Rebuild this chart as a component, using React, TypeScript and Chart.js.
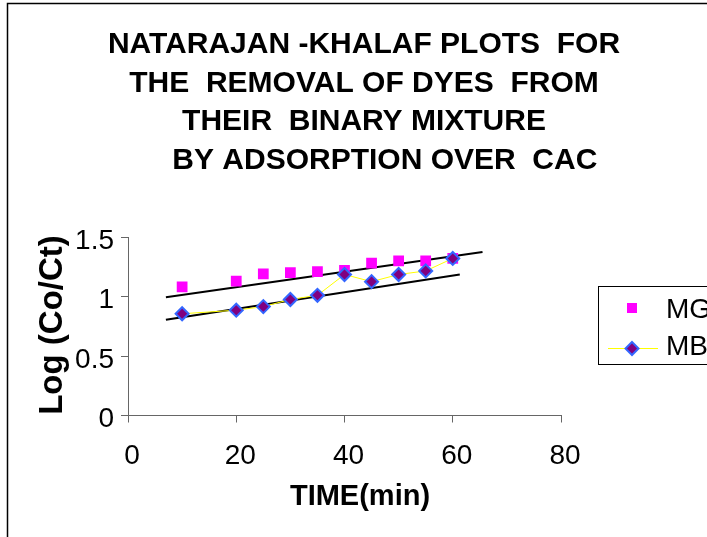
import React, { useEffect, useRef } from 'react';
import { Chart, registerables } from 'chart.js';

Chart.register(...registerables);

// ---- data ----
const titleLines = [
  'NATARAJAN -KHALAF PLOTS  FOR',
  'THE  REMOVAL OF DYES  FROM',
  'THEIR  BINARY MIXTURE',
  '     BY ADSORPTION OVER  CAC',
];
const xAxisTitle = 'TIME(min)';
const yAxisTitle = 'Log (Co/Ct)';
const seriesNames = ['MG', 'MB'];
const timeMin = [10, 20, 25, 30, 35, 40, 45, 50, 55, 60];
const mgValues = [1.08, 1.13, 1.19, 1.2, 1.21, 1.22, 1.28, 1.3, 1.3, 1.32];
const mbValues = [0.855, 0.885, 0.915, 0.975, 1.01, 1.185, 1.125, 1.185, 1.215, 1.32];
// trend line end points
const mgTrendX = [7, 65.5];
const mgTrendY = [0.994, 1.373];
const mbTrendX = [7, 61.3];
const mbTrendY = [0.805, 1.185];
const xMin = 0, xMax = 80, xStep = 20;
const yMin = 0, yMax = 1.5, yStep = 0.5;

const FONT = '"Liberation Sans", Arial, Helvetica, sans-serif';

const toPts = (xs: number[], ys: number[]) => xs.map((x, i) => ({ x, y: ys[i] }));

const decorPlugin = {
  id: 'decor',
  afterDraw(chart: any) {
    const ctx = chart.ctx as CanvasRenderingContext2D;
    ctx.save();
    // outer frame
    ctx.strokeStyle = '#000';
    ctx.lineWidth = 1.5;
    ctx.strokeRect(7.5, 3.5, 900, 900);

    // title
    ctx.fillStyle = '#000';
    ctx.font = `bold 30px ${FONT}`;
    ctx.textAlign = 'center';
    ctx.textBaseline = 'alphabetic';
    titleLines.forEach((t, i) => ctx.fillText(t, 364, 53 + i * 38.5));

    // x axis title
    ctx.font = `bold 29px ${FONT}`;
    ctx.fillText(xAxisTitle, 360, 505);

    // y axis title
    ctx.save();
    ctx.translate(62, 325);
    ctx.rotate(-Math.PI / 2);
    ctx.font = `bold 33px ${FONT}`;
    ctx.fillText(yAxisTitle, 0, 0);
    ctx.restore();

    // legend
    const ds = chart.data.datasets;
    ctx.strokeStyle = '#000';
    ctx.lineWidth = 1;
    ctx.strokeRect(598.5, 286.5, 200, 78);
    // MG
    const mg = ds[0];
    ctx.fillStyle = mg.backgroundColor;
    ctx.fillRect(627, 303, 10, 10);
    // MB
    const mb = ds[1];
    ctx.strokeStyle = mb.borderColor;
    ctx.lineWidth = mb.borderWidth;
    ctx.beginPath();
    ctx.moveTo(608, 348.5);
    ctx.lineTo(658, 348.5);
    ctx.stroke();
    const r = mb.pointRadius;
    ctx.beginPath();
    ctx.moveTo(632, 348.5 - r);
    ctx.lineTo(632 + r, 348.5);
    ctx.lineTo(632, 348.5 + r);
    ctx.lineTo(632 - r, 348.5);
    ctx.closePath();
    ctx.fillStyle = mb.pointBackgroundColor;
    ctx.fill();
    ctx.strokeStyle = mb.pointBorderColor;
    ctx.lineWidth = mb.pointBorderWidth;
    ctx.stroke();

    ctx.fillStyle = '#000';
    ctx.font = `28px ${FONT}`;
    ctx.textAlign = 'left';
    ctx.textBaseline = 'middle';
    ctx.fillText(seriesNames[0], 666, 310);
    ctx.fillText(seriesNames[1], 666, 347);
    ctx.restore();
  },
};

export default function App() {
  const canvasRef = useRef<HTMLCanvasElement | null>(null);

  useEffect(() => {
    document.body.style.margin = '0';
    const canvas = canvasRef.current;
    if (!canvas) return;
    const chart = new Chart(canvas, {
      type: 'scatter',
      data: {
        datasets: [
          {
            label: seriesNames[0],
            data: toPts(timeMin, mgValues),
            pointStyle: 'rect',
            pointRadius: 7.6,
            backgroundColor: '#FF00FF',
            borderColor: '#FF00FF',
            borderWidth: 0,
            pointBorderWidth: 0,
            showLine: false,
            order: 1,
          },
          {
            label: seriesNames[1],
            data: toPts(timeMin, mbValues),
            pointStyle: 'rectRot',
            pointRadius: 6.5,
            pointBackgroundColor: '#800080',
            pointBorderColor: '#3366FF',
            pointBorderWidth: 2,
            backgroundColor: '#800080',
            borderColor: '#FFFF00',
            borderWidth: 1,
            showLine: true,
            order: 0,
          },
          {
            label: 'MG trend',
            data: toPts(mgTrendX, mgTrendY),
            borderColor: '#000',
            borderWidth: 2,
            pointRadius: 0,
            showLine: true,
            order: 2,
          },
          {
            label: 'MB trend',
            data: toPts(mbTrendX, mbTrendY),
            borderColor: '#000',
            borderWidth: 2,
            pointRadius: 0,
            showLine: true,
            order: 2,
          },
        ],
      },
      options: {
        animation: false,
        responsive: false,
        devicePixelRatio: 1,
        events: [],
        layout: { padding: { top: 237, left: 0, right: 146, bottom: 0 } },
        plugins: {
          legend: { display: false },
          title: { display: false },
          tooltip: { enabled: false },
        },
        scales: {
          x: {
            type: 'linear',
            min: xMin,
            max: xMax,
            afterFit: (s: any) => { s.height = 121.5; },
            ticks: {
              stepSize: xStep,
              color: '#000',
              font: { family: FONT, size: 28 },
              padding: 17,
              labelOffset: 4,
              callback: (v: any) => String(Number(v)),
            },
            grid: { display: true, drawOnChartArea: false, drawTicks: true, tickLength: 7, color: '#666' },
            border: { display: true, color: '#666', width: 1 },
          },
          y: {
            type: 'linear',
            min: yMin,
            max: yMax,
            afterFit: (s: any) => { s.width = 128; },
            ticks: {
              stepSize: yStep,
              color: '#000',
              font: { family: FONT, size: 28 },
              padding: 7,
              labelOffset: 4,
              callback: (v: any) => String(Number(v)),
            },
            grid: { display: true, drawOnChartArea: false, drawTicks: true, tickLength: 7, color: '#666' },
            border: { display: true, color: '#666', width: 1 },
          },
        },
      },
      plugins: [decorPlugin],
    });
    return () => chart.destroy();
  }, []);

  return (
    <div style={{ width: 707, height: 537, position: 'relative' }}>
      <canvas ref={canvasRef} width={707} height={537} />
    </div>
  );
}
